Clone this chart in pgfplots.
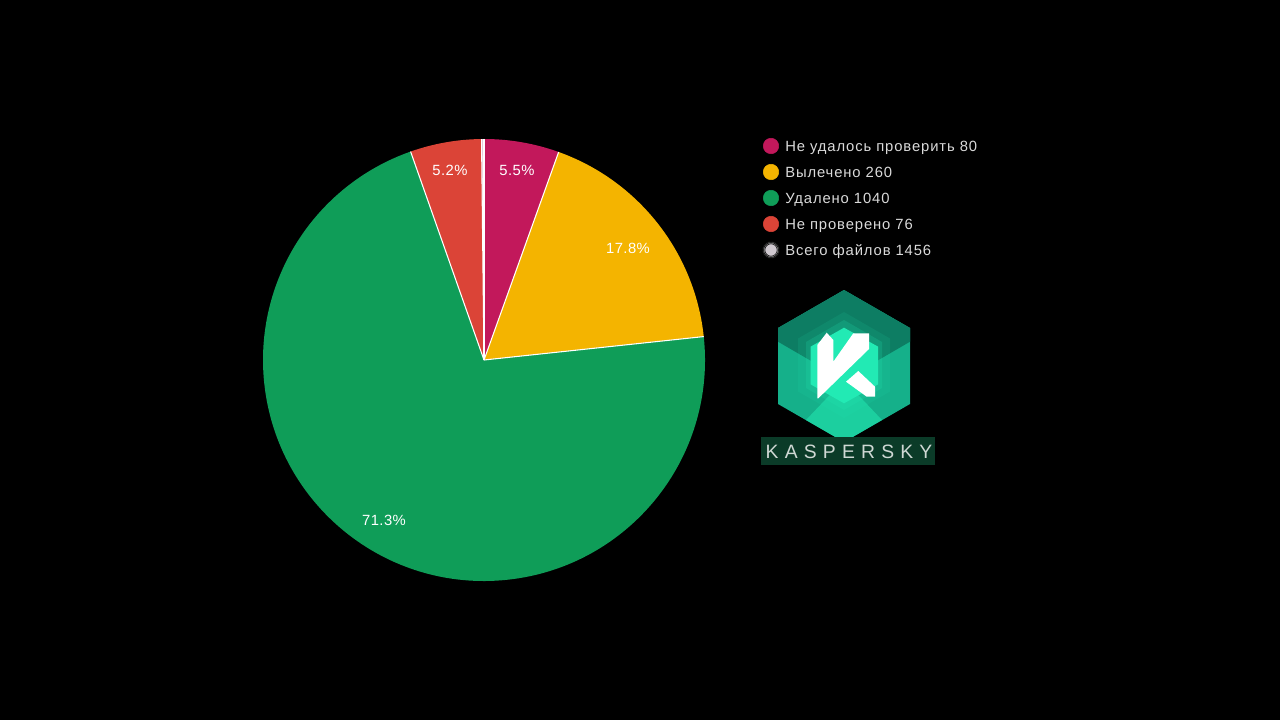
\documentclass[border=0pt]{standalone}
\usepackage{pgfplots}
\pgfplotsset{compat=1.18}
\usepackage{pgfplotstable}
\usepackage{fontspec}
\setmainfont{Liberation Sans}
\newfontfamily\legfont[LetterSpace=6]{Liberation Sans}
\newfontfamily\lblfont[LetterSpace=3]{Liberation Sans}
\newfontfamily\kfont[LetterSpace=32]{Liberation Sans}

\definecolor{pie0}{HTML}{C2185B}
\definecolor{pie1}{HTML}{F4B400}
\definecolor{pie2}{HTML}{0F9D58}
\definecolor{pie3}{HTML}{DB4437}
\definecolor{pie4}{HTML}{E2C6D6}
\definecolor{legtext}{HTML}{DADADA}
\definecolor{hexbase}{HTML}{15B08A}
\definecolor{hextop}{HTML}{0D7D63}
\definecolor{hexbot}{HTML}{1CCF9F}
\definecolor{hexin}{HTML}{22EAB4}
\definecolor{kbox}{HTML}{0B3B28}
\definecolor{ktext}{HTML}{CFD8D4}
\definecolor{dotall}{HTML}{CFC8CF}

% slice values, clockwise from 12 o'clock
\pgfplotstableread{
idx value
0 80
1 260
2 1040
3 76
4 2.6
}\piedata

\def\pieR{165.75pt}% 221 px
\def\pietotal{0}
\pgfplotsinvokeforeach{0,...,4}{%
  \pgfplotstablegetelem{#1}{value}\of\piedata
  \pgfmathsetmacro\tmp{\pietotal+\pgfplotsretval}%
  \xdef\pietotal{\tmp}}
\xdef\pieang{90}
\pgfplotsinvokeforeach{0,...,4}{%
  \pgfplotstablegetelem{#1}{value}\of\piedata
  \pgfmathsetmacro\tmp{\pieang-360*(\pgfplotsretval/\pietotal)}%
  \expandafter\xdef\csname pieA#1\endcsname{\pieang}%
  \expandafter\xdef\csname pieB#1\endcsname{\tmp}%
  \xdef\pieang{\tmp}}

\newcommand\lbl{\lblfont\fontsize{11.1}{13}\selectfont}
\newcommand\leg{\legfont\fontsize{11.1}{13}\selectfont}

\begin{document}
\begin{tikzpicture}
\begin{axis}[
    x=0.75pt, y=0.75pt, xmin=0, xmax=1280, ymin=0, ymax=720,
    y dir=reverse, hide axis, clip=false
]
\fill[black] (0,0) rectangle (1280,720);

% wedges
\pgfplotsinvokeforeach{0,...,4}{
  \fill[pie#1] (484,360) -- ++({\csname pieA#1\endcsname}:\pieR)
    arc[start angle=\csname pieA#1\endcsname, end angle=\csname pieB#1\endcsname, radius=\pieR] -- cycle;
}
\pgfplotsinvokeforeach{0,...,4}{
  \draw[white, line width=0.8pt] (484,360) -- ++({\csname pieA#1\endcsname}:\pieR);
}

% percent labels
\node[text=white, font=\lbl] at (517,170) {5.5\%};
\node[text=white, font=\lbl] at (628,248) {17.8\%};
\node[text=white, font=\lbl] at (384,520) {71.3\%};
\node[text=white, font=\lbl] at (450,170) {5.2\%};

% legend
\addplot[only marks, mark=*, mark size=5.8pt, pie0] coordinates {(771,146)};
\addplot[only marks, mark=*, mark size=5.8pt, pie1] coordinates {(771,172)};
\addplot[only marks, mark=*, mark size=5.8pt, pie2] coordinates {(771,198)};
\addplot[only marks, mark=*, mark size=5.8pt, pie3] coordinates {(771,224)};
\addplot[only marks, mark=*, mark size=6.4pt, draw=none, fill=black!70!white] coordinates {(771,250)};
\addplot[only marks, mark=*, mark size=5.6pt, draw=none, fill=black!45!white] coordinates {(771,250)};
\addplot[only marks, mark=*, mark size=4.6pt, draw=none, fill=dotall] coordinates {(771,250)};
\node[anchor=base west, text=legtext, font=\leg, inner sep=0] at (785,151.5) {Не удалось проверить 80};
\node[anchor=base west, text=legtext, font=\leg, inner sep=0] at (785,177.5) {Вылечено 260};
\node[anchor=base west, text=legtext, font=\leg, inner sep=0] at (785,203.5) {Удалено 1040};
\node[anchor=base west, text=legtext, font=\leg, inner sep=0] at (785,229.5) {Не проверено 76};
\node[anchor=base west, text=legtext, font=\leg, inner sep=0] at (785,255.5) {Всего файлов 1456};

% logo
\fill[hexbase] (844,290) -- (910,328) -- (910,404) -- (844,442) -- (778,404) -- (778,328) -- cycle;
\fill[hextop] (778,341.7) -- (778,328) -- (844,290) -- (910,328) -- (910,341.7) -- (844,380) -- cycle;
\fill[hexbot] (806,420) -- (844,380) -- (882,420) -- (844,442) -- cycle;
\fill[hexin, opacity=0.1] (844,312) -- (890,338.5) -- (890,391.5) -- (844,418) -- (798,391.5) -- (798,338.5) -- cycle;
\fill[hexin, opacity=0.18] (844,320) -- (882,342) -- (882,388) -- (844,410) -- (806,388) -- (806,342) -- cycle;
\fill[hexin] (844,327.7) -- (878,346.6) -- (878,384.4) -- (844,403.3) -- (810.7,384.4) -- (810.7,346.6) -- cycle;
\fill[white] (817.3,345) -- (826.7,332.7) -- (833.3,340) -- (833.3,361.7) -- (853.3,333.3)
  -- (869,333.3) -- (869,349) -- (818.3,398.3) -- (817.3,398.3) -- cycle;
\fill[white] (846,381.7) -- (858.3,371) -- (875,386.7) -- (875,396.7) -- (866.7,396.7) -- cycle;
\fill[kbox] (761,437) rectangle (935,465);
\node[text=ktext, font=\kfont\fontsize{14.5}{15}\selectfont, inner sep=0] at (849,452) {KASPERSKY};
\end{axis}
\end{tikzpicture}
\end{document}
